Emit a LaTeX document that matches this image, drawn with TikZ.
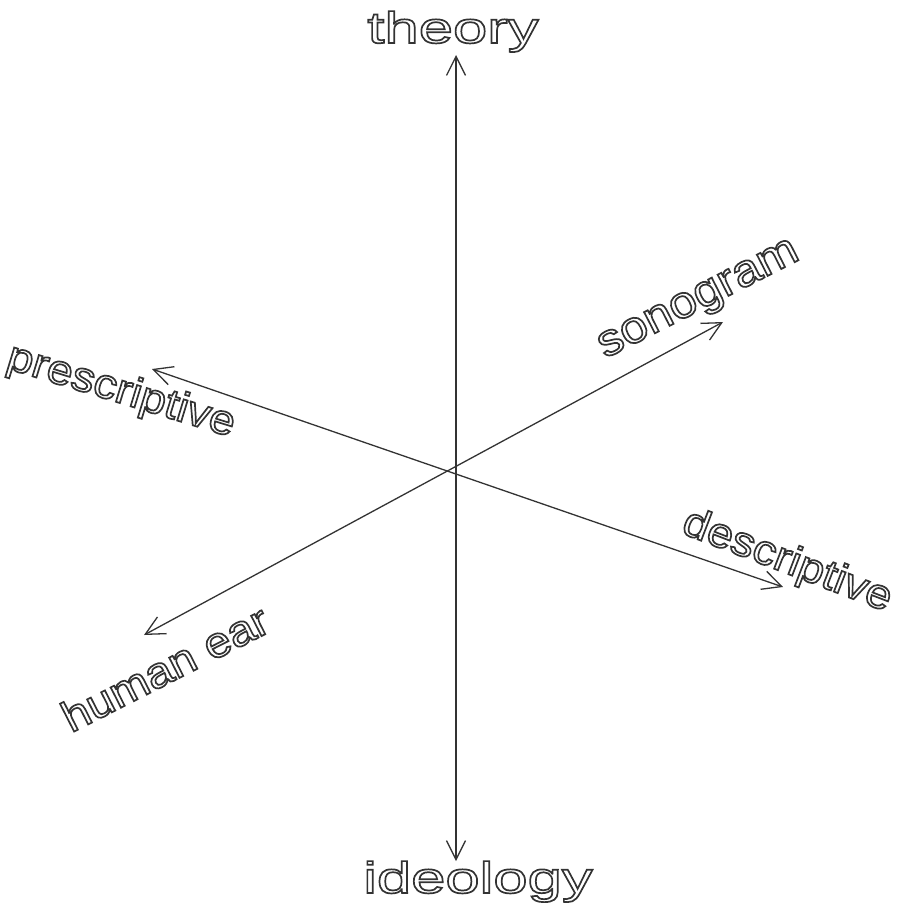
\documentclass[tikz,border=0pt]{standalone}
\usepackage{fontspec}
\usetikzlibrary{arrows.meta}
\newfontfamily\labelfont[FakeStretch=1.4]{Liberation Sans}
\newfontfamily\tiltfont[FakeStretch=1.1]{Liberation Sans}
\newcommand{\hollow}[1]{\special{pdf:literal direct 1 Tr 1.7 w}#1\special{pdf:literal direct 0 Tr}}
\definecolor{ink}{HTML}{333333}
\tikzset{
  axis/.style={draw=ink,line width=1.3pt,{Straight Barb[length=19pt,width=19pt]}-{Straight Barb[length=19pt,width=19pt]}},
  lbl/.style={text=ink,inner sep=0pt,font=\labelfont\fontsize{#1pt}{#1pt}\selectfont},
  lbl/.default=44,
  tilt/.style={text=ink,inner sep=0pt,font=\tiltfont\fontsize{#1pt}{#1pt}\selectfont},
  tilt/.default=42
}
\begin{document}
\begin{tikzpicture}[x=1pt,y=-1pt]
\useasboundingbox (0,0) rectangle (899,903);
\coordinate (up) at (456,55);
\coordinate (down) at (456,861);
\coordinate (son) at (723,322);
\coordinate (ear) at (144,635);
\coordinate (pre) at (152,369);
\coordinate (des) at (783,587);
\draw[axis] (down) -- (up);
\draw[axis] (ear) -- (son);
\draw[axis] (pre) -- (des);
\node[lbl,anchor=base] (theory) at (453,43) {\hollow{theory}};
\node[lbl,anchor=base] (ideology) at (478,893) {\hollow{ideology}};
\node[tilt=45,rotate=27] (sonogram) at (700,302) {\hollow{sonogram}};
\node[tilt,rotate=-17] (prescriptive) at (121,392) {\hollow{prescriptive}};
\node[tilt,rotate=-21] (descriptive) at (787,562) {\hollow{descriptive}};
\node[tilt=43,rotate=27] (humanear) at (165,668) {\hollow{human ear}};
\end{tikzpicture}
\end{document}
